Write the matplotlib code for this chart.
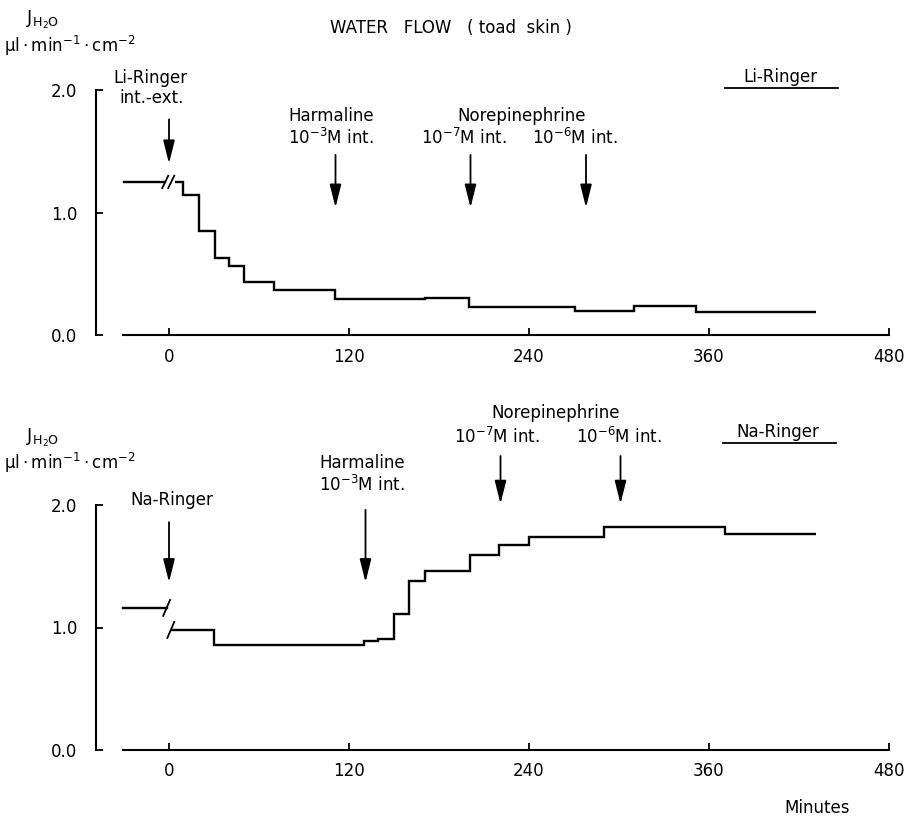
import matplotlib
matplotlib.use("Agg")
import matplotlib.pyplot as plt
from matplotlib.lines import Line2D

# ── Data (minutes, ul/min/cm2) ────────────────────────────────────────────────
li_pre_start  = -30
li_pre_value  = 1.25
li_edges  = [4, 9, 20, 30.5, 40, 50, 70, 110.5, 170.5, 200, 270.5, 310, 351, 431]
li_values = [1.25, 1.14, 0.85, 0.63, 0.56, 0.43, 0.37, 0.29, 0.30, 0.23, 0.20, 0.24, 0.19]

na_pre_start  = -31
na_pre_value  = 1.16
na_edges  = [1.2, 30, 130, 139.5, 150, 160, 170.5, 200.5, 220, 240, 290, 370.5, 431]
na_values = [0.98, 0.86, 0.89, 0.91, 1.11, 1.38, 1.46, 1.59, 1.67, 1.74, 1.82, 1.76]

li_events = [0, 111, 201, 278]
na_events = [0, 131, 221, 301]

x_ticks = [0, 120, 240, 360, 480]
y_ticks = [0.0, 1.0, 2.0]

W, H = 914, 819
FS = 12

fig = plt.figure(figsize=(W / 100, H / 100), dpi=100)
fig.patch.set_facecolor("white")


def ftext(x, y, s, ha="center", **kw):
    fig.text(x / W, 1 - y / H, s, ha=ha, va="center", fontsize=kw.pop("fontsize", FS), **kw)


def underline(x0, x1, y):
    fig.add_artist(Line2D([x0 / W, x1 / W], [1 - y / H, 1 - y / H],
                          color="black", lw=1.3, transform=fig.transFigure))


def make_axes(top_px):
    # 2.0 sits at top_px + 12.25 px, 0.0 at top_px + 257.25 px
    ax = fig.add_axes([94 / W, 1 - (top_px + 269.5) / H, 810 / W, 269.5 / H])
    ax.set_xlim(-50, 490)
    ax.set_ylim(-0.1, 2.1)
    ax.patch.set_visible(False)
    for s in ("top", "right"):
        ax.spines[s].set_visible(False)
    ax.spines["left"].set_position(("data", -49))
    ax.spines["left"].set_bounds(0, 2)
    ax.spines["bottom"].set_position(("data", 0))
    ax.spines["bottom"].set_bounds(-31, 480)
    for s in ("left", "bottom"):
        ax.spines[s].set_linewidth(1.5)
    ax.set_xticks(x_ticks)
    ax.set_xticklabels([str(t) for t in x_ticks])
    ax.set_yticks(y_ticks)
    ax.set_yticklabels([f"{v:.1f}" for v in y_ticks])
    ax.tick_params(axis="both", direction="in", length=5, width=1.3, labelsize=FS)
    ax.tick_params(axis="x", pad=9)
    ax.tick_params(axis="y", pad=13)
    return ax


def slash(ax, t, v, dt=2.0, dv=0.05):
    ax.plot([t - dt, t + dt], [v - dv, v + dv], color="black", lw=1.3)


def arrow(ax, t, y0, y1):
    ax.annotate("", xy=(t, y1), xytext=(t, y0), annotation_clip=False,
                arrowprops=dict(arrowstyle="-|>,head_length=1.0,head_width=0.25",
                                mutation_scale=14, color="black", lw=1.3,
                                shrinkA=0, shrinkB=0))


# ── Top panel: Li-Ringer ──────────────────────────────────────────────────────
ax1 = make_axes(77.75)
ax1.plot([li_pre_start, li_edges[0] - 7], [li_pre_value, li_pre_value], color="black", lw=1.7)
slash(ax1, -2.5, li_pre_value)
slash(ax1, 1.5, li_pre_value)
ax1.stairs(li_values, li_edges, baseline=None, color="black", lw=1.7)

arrow(ax1, li_events[0], 1.76, 1.40)
for t in li_events[1:]:
    arrow(ax1, t, 1.47, 1.04)

# ── Bottom panel: Na-Ringer ───────────────────────────────────────────────────
ax2 = make_axes(492.75)
ax2.plot([na_pre_start, -1.6], [na_pre_value, na_pre_value], color="black", lw=1.7)
slash(ax2, -1.6, na_pre_value, dt=2.3, dv=0.065)
slash(ax2, na_edges[0], na_values[0], dt=2.3, dv=0.065)
ax2.stairs(na_values, na_edges, baseline=None, color="black", lw=1.7)

arrow(ax2, na_events[0], 1.86, 1.37)
arrow(ax2, na_events[1], 1.96, 1.37)
for t in na_events[2:]:
    arrow(ax2, t, 2.40, 2.01)

# ── Texts ─────────────────────────────────────────────────────────────────────
ftext(451, 28, "WATER   FLOW   ( toad  skin )")

ylab = r"$\mathregular{J_{H_2O}}$"
units = r"$\mathregular{\mu l \cdot min^{-1} \cdot cm^{-2}}$"
ftext(26, 20, ylab, ha="left", fontsize=13)
ftext(4, 46, units, ha="left")
ftext(26, 438, ylab, ha="left", fontsize=13)
ftext(4, 463, units, ha="left")

ftext(150, 78, "Li-Ringer")
ftext(152, 98, "int.-ext.")
ftext(331, 116, "Harmaline")
ftext(331, 138, r"10$^{-3}$M int.")
ftext(522, 116, "Norepinephrine")
ftext(464, 138, r"10$^{-7}$M int.")
ftext(575, 138, r"10$^{-6}$M int.")
ftext(780, 77, "Li-Ringer")
underline(725, 838, 88)

ftext(172, 500, "Na-Ringer")
ftext(362, 463, "Harmaline")
ftext(362, 485, r"10$^{-3}$M int.")
ftext(556, 413, "Norepinephrine")
ftext(497, 437, r"10$^{-7}$M int.")
ftext(619, 437, r"10$^{-6}$M int.")
ftext(778, 432, "Na-Ringer")
underline(723, 836, 443)

ftext(817, 808, "Minutes")

fig.savefig("out.png", dpi=100, facecolor="white")
